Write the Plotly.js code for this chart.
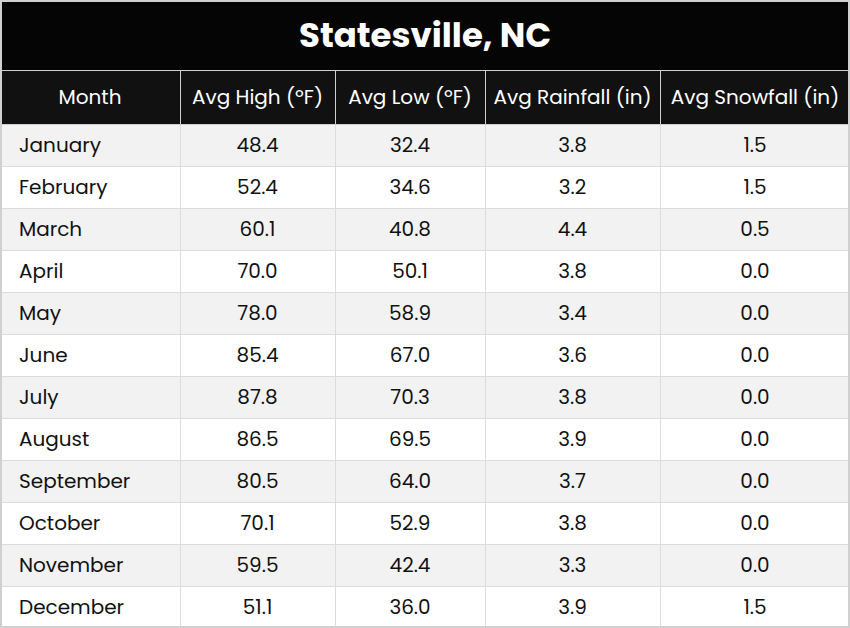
<!DOCTYPE html>
<html>
<head>
<meta charset="utf-8">
<script src="https://cdn.plot.ly/plotly-3.0.1.min.js"></script>
<style>
html,body{margin:0;padding:0;background:#fff;}
#chart{width:850px;height:628px;}
#chart .column-block#header .cell-text{translate:0 11px;}
#chart .column-block:not(#header) .cell-text{translate:0 5px;}
#chart g.y-column:first-of-type .column-block:not(#header) .cell-text{translate:11px 5px;}
</style>
</head>
<body>
<div id="chart"></div>
<script>
const titleText = "Statesville, NC";
const headers = ["Month", "Avg High (ºF)", "Avg Low (ºF)", "Avg Rainfall (in)", "Avg Snowfall (in)"];
const months = ["January","February","March","April","May","June","July","August","September","October","November","December"];
const avgHigh = ["48.4","52.4","60.1","70.0","78.0","85.4","87.8","86.5","80.5","70.1","59.5","51.1"];
const avgLow = ["32.4","34.6","40.8","50.1","58.9","67.0","70.3","69.5","64.0","52.9","42.4","36.0"];
const avgRain = ["3.8","3.2","4.4","3.8","3.4","3.6","3.8","3.9","3.7","3.8","3.3","3.9"];
const avgSnow = ["1.5","1.5","0.5","0.0","0.0","0.0","0.0","0.0","0.0","0.0","0.0","1.5"];

const W = 850, H = 628, titleH = 70;
const FONT = "Poppins, Inter, 'Open Sans', sans-serif";
const rowFill = months.map((m, i) => i % 2 === 0 ? "#f2f2f2" : "#ffffff");
const fills = headers.map(() => rowFill);
const noWrap = arr => arr.map(s => s.replace(/ /g, "\u00a0"));

const trace = {
  type: "table",
  domain: {x: [0, 1], y: [0, (H - titleH) / H]},
  columnwidth: [180, 155, 150, 175, 190],
  header: {
    values: noWrap(headers),
    align: "center",
    height: 54,
    fill: {color: "#111111"},
    line: {color: "#cfcfcf", width: 1},
    font: {family: FONT, size: 20, color: "#ffffff"}
  },
  cells: {
    values: [months, avgHigh, avgLow, avgRain, avgSnow],
    align: ["left", "center", "center", "center", "center"],
    height: 42,
    fill: {color: fills},
    line: {color: "#dcdcdc", width: 1},
    font: {family: FONT, size: 20, color: "#111111"}
  }
};

const layout = {
  width: W, height: H,
  margin: {l: 0, r: 0, t: 0, b: 0},
  paper_bgcolor: "#ffffff",
  showlegend: false,
  shapes: [
    {type: "rect", xref: "paper", yref: "paper", x0: 0, x1: 1, y0: (H - titleH) / H, y1: 1,
     fillcolor: "#050505", line: {width: 0}, layer: "below"},
    {type: "rect", xref: "paper", yref: "paper", x0: 0, x1: 1, y0: 0, y1: 1,
     fillcolor: "rgba(0,0,0,0)", line: {color: "#d0d0d0", width: 4}, layer: "above"}
  ],
  annotations: [
    {text: "<b>" + titleText + "</b>", xref: "paper", yref: "paper", x: 0.5, y: 1 - 35 / H,
     xanchor: "center", yanchor: "middle", showarrow: false,
     font: {family: FONT, size: 34, color: "#ffffff"}}
  ]
};

Plotly.newPlot("chart", [trace], layout, {displayModeBar: false, staticPlot: true});
</script>
</body>
</html>
